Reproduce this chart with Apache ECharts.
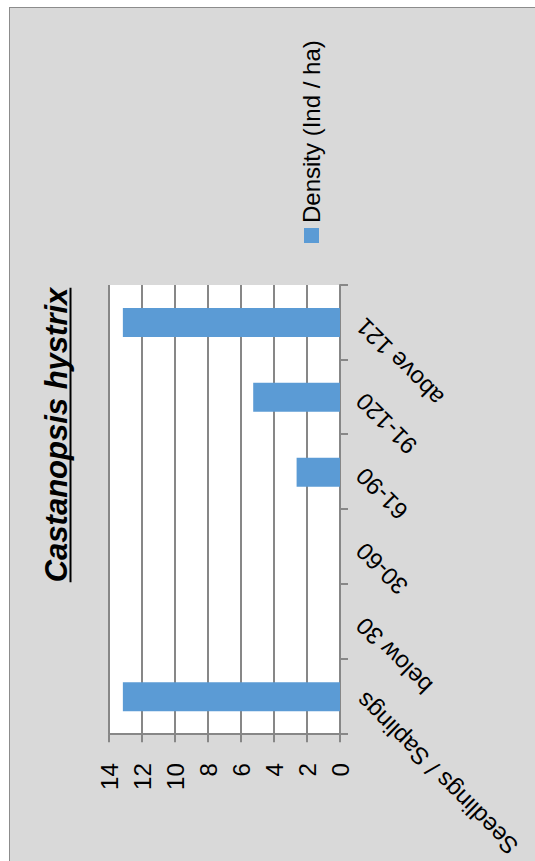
<!DOCTYPE html>
<html>
<head>
<meta charset="utf-8">
<title>Castanopsis hystrix</title>
<script src="https://cdn.jsdelivr.net/npm/echarts@6/dist/echarts.min.js"></script>
<style>
  html, body { margin: 0; padding: 0; background: #fff; overflow: hidden; }
  body { width: 535px; height: 861px; position: relative; }
  /* chart frame (Excel style grey chart area) */
  #frame {
    position: absolute; left: 9px; top: 7px; width: 560px; height: 900px;
    background: #d9d9d9; border: 1.5px solid #8c8c8c; box-sizing: border-box;
  }
  /* the chart is laid out landscape and turned a quarter turn counter-clockwise */
  #chart {
    position: absolute; left: 0; top: 0; width: 861px; height: 535px;
    transform-origin: 0 0;
    transform: translate(0, 861px) rotate(-90deg);
  }
</style>
</head>
<body>
<div id="frame"></div>
<div id="chart"></div>
<script>
// size classes (cm) and stem density per hectare
const categories = ['Seedlings / Saplings', 'below 30', '30-60', '61-90', '91-120', 'above 121'];
const density = [13.16, 0, 0, 2.63, 5.26, 13.16];
const seriesName = 'Density (Ind / ha)';
const titleText = 'Castanopsis hystrix';
const valueTicks = { min: 0, max: 14, interval: 2 };

const FONT = 'Liberation Sans';
const titleFont = 'italic bold 31px "' + FONT + '"';

// measure the title so the underline spans the text exactly
const ctx = document.createElement('canvas').getContext('2d');
ctx.font = titleFont;
const titleWidth = ctx.measureText(titleText).width;
const titleCenter = 426;
const titleLeft = titleCenter - titleWidth / 2;

const chart = echarts.init(document.getElementById('chart'), null, { renderer: 'svg', width: 861, height: 535 });

const axisGrey = '#878787';

chart.setOption({
  backgroundColor: 'transparent',
  animation: false,
  textStyle: { fontFamily: FONT },
  title: {
    text: titleText,
    left: titleLeft,
    top: 41,
    padding: 0,
    textStyle: {
      fontFamily: FONT, fontSize: 31, fontStyle: 'italic', fontWeight: 'bold',
      color: '#000', lineHeight: 31
    }
  },
  graphic: [{
    type: 'line',
    shape: { x1: titleLeft, y1: 70.5, x2: titleLeft + titleWidth, y2: 70.5 },
    style: { stroke: '#000', lineWidth: 2 }
  }],
  legend: {
    data: [seriesName],
    left: 618,
    top: 299.5,
    padding: 0,
    icon: 'rect',
    itemWidth: 15,
    itemHeight: 15,
    itemGap: 5,
    textStyle: { fontFamily: FONT, fontSize: 24, lineHeight: 24, color: '#000' }
  },
  grid: {
    left: 124.5, top: 109, width: 451.5, height: 231,
    show: true, backgroundColor: '#ffffff', borderWidth: 0,
    containLabel: false
  },
  xAxis: {
    type: 'category',
    data: categories,
    axisLine: { show: true, lineStyle: { color: axisGrey, width: 2 } },
    axisTick: { show: true, length: 8, lineStyle: { color: axisGrey, width: 2 } },
    axisLabel: {
      rotate: 45, margin: 20, interval: 0,
      fontFamily: FONT, fontSize: 24, color: '#000'
    }
  },
  yAxis: {
    type: 'value',
    min: valueTicks.min, max: valueTicks.max, interval: valueTicks.interval,
    axisLine: { show: true, lineStyle: { color: axisGrey, width: 2 } },
    axisTick: { show: true, length: 8, lineStyle: { color: axisGrey, width: 2 } },
    splitLine: { show: true, lineStyle: { color: axisGrey, width: 2 } },
    axisLabel: { margin: 29, fontFamily: FONT, fontSize: 24, color: '#000' }
  },
  series: [{
    name: seriesName,
    type: 'bar',
    data: density,
    barWidth: 29,
    itemStyle: { color: '#5b9bd5' }
  }]
});
</script>
</body>
</html>
